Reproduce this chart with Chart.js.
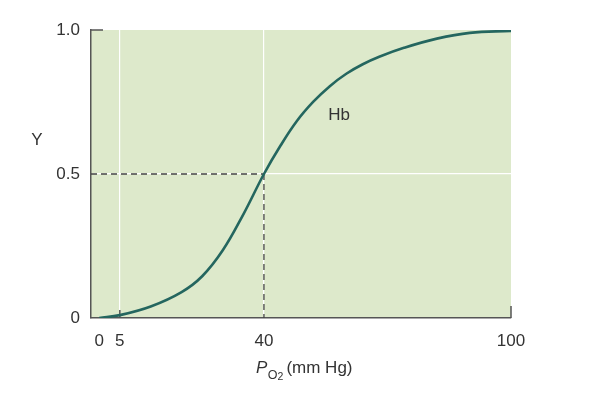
<!DOCTYPE html>
<html>
<head>
<meta charset="utf-8">
<script src="https://cdn.jsdelivr.net/npm/chart.js@4"></script>
<style>
html,body{margin:0;padding:0;background:#fff;}
#wrap{width:612px;height:398px;}
</style>
</head>
<body>
<div id="wrap"><canvas id="c" width="612" height="398"></canvas></div>
<script>
// Data: oxygen saturation Y of hemoglobin vs P_O2
const po2 = [0, 5, 12.5, 20, 25, 30, 35, 40, 44, 48, 52, 56, 60, 64, 68, 74, 82, 90, 100];
const saturation = [0, 0.01, 0.04, 0.09, 0.145, 0.235, 0.36, 0.5, 0.598, 0.684, 0.751, 0.805, 0.848, 0.881, 0.907, 0.938, 0.97, 0.99, 0.997];
const xTicks = [0, 5, 40, 100];
const yTicks = [0, 0.5, 1.0];
const yTickLabels = ['0', '0.5', '1.0'];
const halfPoint = {x: 40, y: 0.5};
const curveLabel = 'Hb';

const FONT = '"Liberation Sans", Arial, Helvetica, sans-serif';
const TEXT = '#333333';
const AXIS = '#555555';

const decor = {
  id: 'decor',
  beforeDraw(chart) {
    const {ctx, chartArea: a} = chart;
    ctx.save();
    ctx.fillStyle = '#dde9cb';
    ctx.fillRect(a.left, a.top, a.right - a.left, a.bottom - a.top);
    ctx.restore();
  },
  beforeDatasetsDraw(chart) {
    const {ctx, scales: {x, y}, chartArea: a} = chart;
    ctx.save();
    // dashed guide lines at half saturation
    ctx.strokeStyle = '#444';
    ctx.lineWidth = 1.3;
    ctx.setLineDash([6, 4]);
    ctx.beginPath();
    ctx.moveTo(a.left, y.getPixelForValue(halfPoint.y));
    ctx.lineTo(x.getPixelForValue(halfPoint.x), y.getPixelForValue(halfPoint.y));
    ctx.moveTo(x.getPixelForValue(halfPoint.x), y.getPixelForValue(halfPoint.y));
    ctx.lineTo(x.getPixelForValue(halfPoint.x), a.bottom);
    ctx.stroke();
    ctx.setLineDash([]);
    // small inward ticks
    ctx.strokeStyle = AXIS;
    ctx.lineWidth = 1.5;
    ctx.beginPath();
    const yt = y.getPixelForValue(1.0);
    ctx.moveTo(a.left, yt); ctx.lineTo(a.left + 12, yt);
    const x5 = x.getPixelForValue(5);
    ctx.moveTo(x5, a.bottom); ctx.lineTo(x5, a.bottom - 8);
    const x100 = x.getPixelForValue(100);
    ctx.moveTo(x100, a.bottom); ctx.lineTo(x100, a.bottom - 12);
    ctx.stroke();
    ctx.restore();
  },
  afterDraw(chart) {
    const {ctx} = chart;
    ctx.save();
    ctx.fillStyle = TEXT;
    ctx.textBaseline = 'alphabetic';
    // Y title
    ctx.font = '17px ' + FONT;
    ctx.textAlign = 'center';
    ctx.fillText('Y', 37, 145);
    // curve label
    ctx.fillText(curveLabel, 339, 120);
    // x title: P(italic) O2 subscript (mm Hg)
    ctx.textAlign = 'left';
    const base = 373;
    let px = 256;
    ctx.font = 'italic 17px ' + FONT;
    ctx.fillText('P', px, base);
    px += ctx.measureText('P').width + 0.5;
    ctx.font = '12.5px ' + FONT;
    ctx.fillText('O', px, base + 6);
    px += ctx.measureText('O').width;
    ctx.font = '10.5px ' + FONT;
    ctx.fillText('2', px, base + 7);
    px += ctx.measureText('2').width + 3;
    ctx.font = '17px ' + FONT;
    ctx.fillText('(mm Hg)', px, base);
    ctx.restore();
  }
};

new Chart(document.getElementById('c'), {
  type: 'line',
  data: {
    datasets: [{
      data: po2.map((v, i) => ({x: v, y: saturation[i]})),
      borderColor: '#24665f',
      borderWidth: 2.6,
      pointRadius: 0,
      tension: 0.4,
      fill: false
    }]
  },
  options: {
    responsive: false,
    animation: false,
    devicePixelRatio: 1,
    layout: {padding: {left: 0, right: 101, top: 30, bottom: 0}},
    plugins: {legend: {display: false}, tooltip: {enabled: false}},
    scales: {
      x: {
        type: 'linear',
        min: -2, max: 100,
        afterBuildTicks: s => { s.ticks = xTicks.map(v => ({value: v})); },
        afterFit: s => { s.height = 80; },
        border: {display: true, color: AXIS, width: 1.5},
        grid: {
          drawTicks: false,
          color: c => (c.tick && (c.tick.value === 5 || c.tick.value === 40)) ? '#ffffff' : 'rgba(0,0,0,0)',
          lineWidth: 1.2
        },
        ticks: {
          padding: 13,
          color: TEXT,
          font: {family: FONT, size: 17},
          maxRotation: 0,
          autoSkip: false
        }
      },
      y: {
        type: 'linear',
        min: 0, max: 1,
        afterBuildTicks: s => { s.ticks = yTicks.map(v => ({value: v})); },
        afterFit: s => { s.width = 91; },
        border: {display: true, color: AXIS, width: 1.5},
        grid: {
          drawTicks: false,
          color: c => (c.tick && c.tick.value === 0.5) ? '#ffffff' : 'rgba(0,0,0,0)',
          lineWidth: 1.2
        },
        ticks: {
          padding: 11,
          color: TEXT,
          font: {family: FONT, size: 17},
          autoSkip: false,
          callback: (v) => yTickLabels[yTicks.indexOf(v)] ?? ''
        }
      }
    }
  },
  plugins: [decor]
});
</script>
</body>
</html>
